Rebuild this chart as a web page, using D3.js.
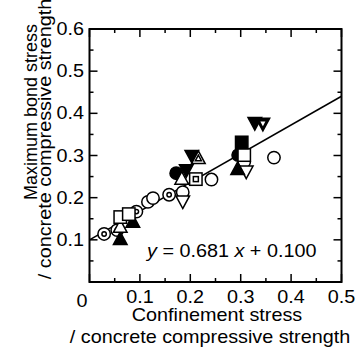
<!DOCTYPE html>
<html>
<head>
<meta charset="utf-8">
<script src="https://cdn.jsdelivr.net/npm/d3@7"></script>
<style>
  html, body { margin: 0; padding: 0; background: #fff; }
  svg { display: block; }
  text { font-family: "Liberation Sans", Arial, sans-serif; fill: #000; }
</style>
</head>
<body>
<svg id="chart" width="360" height="349"></svg>
<script>
// Normalised confinement stress (x) vs normalised maximum bond stress (y), by specimen series
const openCircle   = [[0.116, 0.190], [0.126, 0.199], [0.185, 0.213], [0.242, 0.243], [0.307, 0.285], [0.366, 0.295]];
const dotCircle    = [[0.029, 0.114], [0.055, 0.123], [0.093, 0.167], [0.158, 0.207]];
const filledCircle = [[0.172, 0.258], [0.295, 0.301]];
const openSquare   = [[0.061, 0.154], [0.078, 0.161], [0.307, 0.301]];
const filledSquare = [[0.302, 0.331]];
const dotSquare    = [[0.211, 0.244]];
const openUp       = [[0.061, 0.130], [0.183, 0.244]];
const filledUp     = [[0.061, 0.101], [0.086, 0.142], [0.294, 0.267]];
const innerUp      = [[0.216, 0.293]];
const openDown     = [[0.185, 0.192], [0.311, 0.263]];
const filledDown   = [[0.192, 0.266], [0.203, 0.300], [0.328, 0.378]];
const innerDown    = [[0.344, 0.376]];

const slope = 0.681, intercept = 0.100;
const xTicks = [0, 0.1, 0.2, 0.3, 0.4, 0.5];
const yTicks = [0.1, 0.2, 0.3, 0.4, 0.5, 0.6];

const svg = d3.select("#chart");
const x = d3.scaleLinear().domain([0, 0.5]).range([89.5, 341.5]);
const y = d3.scaleLinear().domain([0, 0.6]).range([282, 29]);
const SX = 1.1;   // glyph stretch along the reading direction
const FS = 18;

svg.append("rect").attr("width", 360).attr("height", 349).attr("fill", "#fff");

// tick marks on all four sides, pointing inward
const minorX = d3.range(0, 0.5001, 0.05);
const minorY = d3.range(0, 0.6001, 0.05);
const isMajor = v => Math.abs(Math.round(v * 10) - v * 10) < 1e-6;
const tk = svg.append("g").attr("stroke", "#000").attr("stroke-width", 1.5);
minorX.forEach(v => {
  const L = isMajor(v) ? 8 : 4;
  tk.append("line").attr("x1", x(v)).attr("x2", x(v)).attr("y1", y(0)).attr("y2", y(0) - L);
  tk.append("line").attr("x1", x(v)).attr("x2", x(v)).attr("y1", y(0.6)).attr("y2", y(0.6) + L);
});
minorY.forEach(v => {
  const L = isMajor(v) ? 8 : 4;
  tk.append("line").attr("x1", x(0)).attr("x2", x(0) + L).attr("y1", y(v)).attr("y2", y(v));
  tk.append("line").attr("x1", x(0.5)).attr("x2", x(0.5) - L).attr("y1", y(v)).attr("y2", y(v));
});

svg.append("rect")
  .attr("x", x(0)).attr("y", y(0.6))
  .attr("width", x(0.5) - x(0)).attr("height", y(0) - y(0.6))
  .attr("fill", "none").attr("stroke", "#000").attr("stroke-width", 2);

function label(px, py, str, anchor, size, rot, sx = SX) {
  const g = svg.append("g").attr("transform", `translate(${px},${py})` + (rot ? ` rotate(${rot})` : ""));
  return g.append("text").attr("transform", `scale(${sx},1)`)
    .attr("text-anchor", anchor).attr("font-size", size).text(str);
}

// tick labels
xTicks.forEach(v => {
  if (v === 0) label(82, 307, "0", "middle", FS);
  else label(x(v), 302.5, d3.format(".1f")(v), "middle", FS);
});
yTicks.forEach(v => label(84, y(v) + 6, d3.format(".1f")(v), "end", FS));

// axis titles
label(217, 320.5, "Confinement stress", "middle", FS);
label(210, 343, "/ concrete compressive strength", "middle", FS);
label(36.5, 112, "Maximum bond stress", "middle", FS, -90, 1);
label(51, 139, "/ concrete compressive strength", "middle", FS, -90);

// regression line
const plot = svg.append("g");
plot.append("line")
  .attr("x1", x(0)).attr("y1", y(intercept))
  .attr("x2", x(0.5)).attr("y2", y(intercept + slope * 0.5))
  .attr("stroke", "#000").attr("stroke-width", 1.5);

// markers
const R = 6.2;
const tri = (s, up) => up
  ? `M0,${-s * 1.1}L${s},${s * 0.75}L${-s},${s * 0.75}Z`
  : `M0,${s * 1.1}L${s},${-s * 0.75}L${-s},${-s * 0.75}Z`;
function draw(data, kind) {
  const g = plot.selectAll(null).data(data).enter().append("g")
    .attr("transform", d => `translate(${x(d[0])},${y(d[1])})`);
  const app = (tag, fill) => g.append(tag).attr("stroke", "#000").attr("stroke-width", 1.5).attr("fill", fill);
  const sq = (h, fill) => app("rect", fill).attr("x", -h).attr("y", -h).attr("width", 2 * h).attr("height", 2 * h);
  if (kind === "circle") app("circle", "#fff").attr("r", R);
  if (kind === "dotCircle") { app("circle", "#fff").attr("r", R); app("circle", "#fff").attr("r", 2.2); }
  if (kind === "filledCircle") app("circle", "#000").attr("r", R);
  if (kind === "square") sq(R, "#fff");
  if (kind === "filledSquare") sq(R, "#000");
  if (kind === "dotSquare") { sq(R, "#fff"); sq(2.5, "#fff"); }
  if (kind === "openUp") app("path", "#fff").attr("d", tri(6.8, true));
  if (kind === "filledUp") app("path", "#000").attr("d", tri(6.8, true));
  if (kind === "innerUp") { app("path", "#fff").attr("d", tri(6.8, true)); app("path", "#fff").attr("d", tri(3, true)); }
  if (kind === "openDown") app("path", "#fff").attr("d", tri(6.8, false));
  if (kind === "filledDown") app("path", "#000").attr("d", tri(6.8, false));
  if (kind === "innerDown") { app("path", "#000").attr("d", tri(6.8, false));
    g.append("path").attr("d", tri(2.5, false)).attr("fill", "#fff"); }
}
draw(openCircle, "circle");
draw(dotCircle, "dotCircle");
draw(openDown, "openDown");
draw(filledDown, "filledDown");
draw(innerDown, "innerDown");
draw(innerUp, "innerUp");
draw(filledCircle, "filledCircle");
draw(filledUp, "filledUp");
draw(openUp, "openUp");
draw(openSquare, "square");
draw(filledSquare, "filledSquare");
draw(dotSquare, "dotSquare");

// fitted equation
const eq = svg.append("g").attr("transform", "translate(147,257)")
  .append("text").attr("transform", `scale(${SX},1)`).attr("font-size", FS);
eq.append("tspan").attr("font-style", "italic").text("y");
eq.append("tspan").text(` = ${slope.toFixed(3)} `);
eq.append("tspan").attr("font-style", "italic").text("x");
eq.append("tspan").text(` + ${intercept.toFixed(3)}`);
</script>
</body>
</html>
